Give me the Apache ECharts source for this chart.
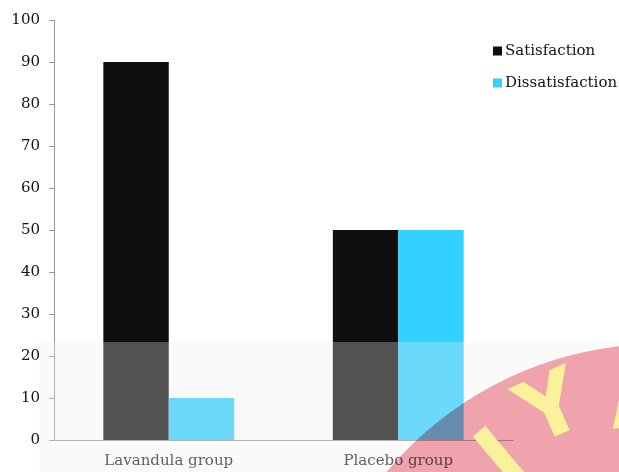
<!DOCTYPE html>
<html>
<head>
<meta charset="utf-8">
<script src="https://cdn.jsdelivr.net/npm/echarts@6/dist/echarts.min.js"></script>
<style>
  html, body { margin: 0; padding: 0; background: #fff; }
  #chart { width: 619px; height: 472px; }
</style>
</head>
<body>
<div id="chart"></div>
<script>
var groups = ['Lavandula group', 'Placebo group'];
var satisfaction = [90, 50];
var dissatisfaction = [10, 50];
var seriesNames = ['Satisfaction', 'Dissatisfaction'];

var chart = echarts.init(document.getElementById('chart'));
var serif = 'DejaVu Serif';
var stamp = 'bold 86px "DejaVu Sans"';

chart.setOption({
  animation: false,
  backgroundColor: '#fff',
  grid: { left: 54, right: 106, top: 20, bottom: 32 },
  legend: {
    orient: 'vertical',
    left: 488,
    top: 37,
    itemWidth: 9,
    itemHeight: 9,
    itemGap: 14,
    itemStyle: { borderWidth: 0 },
    textStyle: { fontFamily: serif, fontSize: 15, color: '#111', lineHeight: 18, padding: [0, 0, 0, -2] },
    data: seriesNames.map(function (n) { return { name: n, icon: 'rect' }; })
  },
  xAxis: {
    type: 'category',
    data: groups,
    axisLine: { lineStyle: { color: '#999' } },
    axisTick: { length: 4, lineStyle: { color: '#999' } },
    axisLabel: { fontFamily: serif, fontSize: 15, color: '#222', margin: 14 }
  },
  yAxis: {
    type: 'value',
    min: 0,
    max: 100,
    interval: 10,
    splitLine: { show: false },
    axisLine: { show: true, lineStyle: { color: '#999' } },
    axisTick: { show: true, length: 5, lineStyle: { color: '#999' } },
    axisLabel: { fontFamily: serif, fontSize: 15, color: '#111', margin: 14 }
  },
  series: [
    {
      name: seriesNames[0],
      type: 'bar',
      data: satisfaction,
      barGap: '0%',
      barCategoryGap: '43%',
      itemStyle: { color: '#0f0f0f' }
    },
    {
      name: seriesNames[1],
      type: 'bar',
      data: dissatisfaction,
      barGap: '0%',
      barCategoryGap: '43%',
      itemStyle: { color: '#33d1ff' }
    }
  ],
  graphic: [
    {
      type: 'rect', z: 100, silent: true,
      shape: { x: 39, y: 342, width: 580, height: 130 },
      style: { fill: 'rgba(240,240,240,0.3)' }
    },
    {
      type: 'circle', z: 101, silent: true,
      shape: { cx: 660, cy: 700, r: 356 },
      style: { fill: '#f4a6b0', blend: 'multiply' }
    },
    {
      type: 'text', z: 102, silent: true,
      x: 505, y: 462, rotation: 0.7,
      style: { text: 'I', fill: '#faf29a', font: stamp, align: 'center', verticalAlign: 'middle' }
    },
    {
      type: 'text', z: 102, silent: true,
      x: 553, y: 413, rotation: 0.42,
      style: { text: 'Y', fill: '#faf29a', font: stamp, align: 'center', verticalAlign: 'middle' }
    },
    {
      type: 'text', z: 102, silent: true,
      x: 642, y: 402, rotation: 0.15,
      style: { text: 'A', fill: '#faf29a', font: stamp, align: 'center', verticalAlign: 'middle' }
    }
  ]
});
</script>
</body>
</html>
